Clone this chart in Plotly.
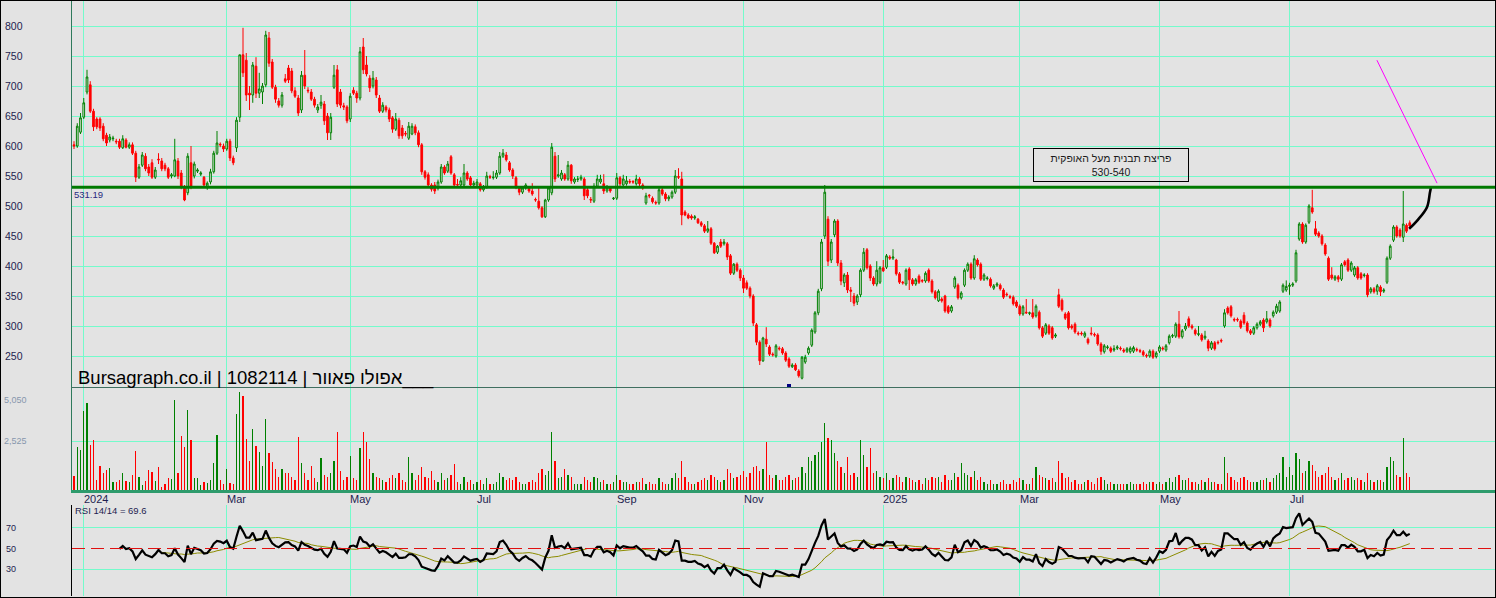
import numpy as np
import pandas as pd
import plotly.graph_objects as go

# ---------------- data ----------------
START_DATE = "2023-12-27"
HOLIDAYS = ["2024-03-24", "2024-04-22", "2024-04-23", "2024-04-28", "2024-04-29",
            "2024-05-13", "2024-05-14", "2024-06-11", "2024-06-12", "2024-08-13",
            "2024-10-02", "2024-10-03", "2024-10-16", "2024-10-17", "2024-10-23",
            "2024-10-24", "2025-04-13", "2025-05-01", "2025-06-01", "2025-06-02",
            "2025-08-03"]

opens = [602,600,623,648,690,702,658,645,645,633,618,610,612,608,608,597,610,598,602,588,
         548,568,583,565,572,548,578,575,568,562,550,550,575,555,532,522,572,550,558,553,
         548,533,540,557,588,603,600,595,608,580,597,648,752,743,688,685,733,688,690,702,
         780,740,698,675,668,712,730,725,692,680,660,718,693,690,678,660,668,670,650,622,
         698,727,690,667,665,645,693,688,680,765,735,713,700,710,680,658,665,660,647,628,
         643,630,621,613,620,632,622,602,557,552,535,535,530,540,565,558,582,552,536,535,
         535,555,547,535,535,537,527,532,549,547,548,555,583,585,572,560,547,530,523,530,
         530,525,511,508,497,482,510,522,583,550,545,552,545,568,540,544,545,545,527,511,
         508,533,540,537,525,530,512,513,547,535,537,541,541,537,545,535,505,518,513,506,
         505,527,520,512,515,523,549,545,490,485,483,480,478,472,467,458,462,438,423,440,
         437,437,417,388,403,393,380,372,363,350,302,273,242,278,265,253,250,263,262,255,
         245,232,235,225,213,240,255,268,290,322,362,450,478,410,452,475,405,372,385,360,
         350,340,352,393,427,400,380,370,373,397,398,415,413,410,387,373,370,395,377,370,
         383,376,375,393,375,357,342,345,350,332,325,365,368,347,368,393,403,380,410,403,
         378,379,378,363,368,368,360,353,349,348,340,333,320,323,321,322,317,323,297,288,
         300,297,283,352,343,320,322,300,303,288,288,283,278,288,286,285,270,257,264,263,
         260,263,263,260,258,257,258,261,259,257,251,250,258,249,258,263,260,272,283,283,
         303,282,295,312,300,293,286,285,280,275,263,272,273,276,300,330,332,311,311,308,
         318,305,292,288,297,303,310,307,310,317,323,325,358,360,366,368,375,445,470,440,
         473,497,462,455,450,435,413,385,378,382,378,407,410,393,385,397,387,384,385,357,
         362,358,365,358,373,413,443,465,460,448,468,472]
highs = [608,638,655,680,727,708,662,648,648,638,622,620,617,612,612,618,613,606,606,592,
         570,590,588,570,578,565,588,580,572,565,555,612,580,560,535,588,600,574,563,558,
         550,541,562,592,625,606,604,612,612,584,648,752,797,755,700,740,748,722,705,792,
         790,745,702,680,690,720,735,730,698,685,725,760,698,695,682,670,685,675,655,655,
         735,735,695,672,668,688,698,692,765,780,750,718,725,715,685,673,668,664,650,655,
         647,635,625,640,638,636,626,605,560,556,538,540,544,570,568,575,585,555,545,548,
         570,558,550,542,545,540,535,557,552,558,560,590,595,590,575,563,550,533,533,538,
         533,538,514,530,500,512,533,605,590,585,560,555,575,570,548,550,552,548,530,515,
         538,552,552,553,535,533,515,555,550,552,550,545,543,552,548,538,522,520,516,509,
         532,530,523,518,526,560,563,557,493,488,486,485,480,475,470,475,465,440,435,445,
         445,440,420,405,406,396,385,376,366,353,305,276,282,298,268,256,270,266,265,258,
         248,238,238,228,250,252,266,296,325,362,445,535,483,445,478,478,410,388,390,365,
         355,353,396,430,430,403,383,408,400,410,420,418,428,412,390,375,396,398,380,380,
         386,378,391,396,378,360,361,348,352,335,335,383,371,358,396,406,406,418,413,406,
         388,383,381,370,373,371,363,356,352,351,343,336,335,345,324,345,336,326,300,305,
         303,300,288,362,346,323,325,303,306,291,291,291,281,298,289,288,273,270,268,266,
         268,268,266,263,265,266,267,264,262,260,254,261,261,258,268,266,270,286,287,306,
         325,295,305,316,303,296,300,288,292,278,275,275,276,279,328,333,335,314,314,311,
         323,308,295,300,306,310,313,325,313,326,337,343,371,376,372,373,427,473,473,471,
         503,527,475,458,453,438,416,398,385,385,405,410,413,408,400,400,390,388,388,365,
         365,370,368,363,416,436,468,468,463,525,471,476]
lows = [595,597,620,645,686,655,625,628,625,608,600,606,608,603,595,595,596,595,585,540,
        545,565,558,550,545,545,570,558,558,545,546,548,545,528,508,518,528,546,555,550,
        530,527,536,554,585,598,590,592,575,568,590,640,715,675,660,672,680,680,670,698,
        732,695,672,664,664,705,705,688,680,650,655,695,688,675,664,655,662,635,610,610,
        695,665,663,660,638,640,685,672,676,720,716,690,696,680,655,655,656,640,622,625,
        612,612,616,610,618,618,598,552,544,530,524,520,526,537,552,555,552,530,530,532,
        532,542,532,532,532,524,524,529,545,544,545,552,580,574,557,545,528,518,520,527,
        522,517,507,494,480,480,507,518,540,547,542,542,542,537,537,540,542,510,513,505,
        505,530,537,520,522,522,510,510,533,532,534,537,537,534,533,527,502,513,504,502,
        502,517,508,508,512,520,545,468,483,478,477,477,470,465,455,455,435,420,420,430,
        434,410,385,385,390,375,355,360,346,300,268,235,240,265,250,249,247,259,252,240,
        230,230,225,214,211,237,252,265,287,318,358,445,400,405,448,400,368,365,355,340,
        333,335,348,390,394,375,367,366,370,390,395,410,410,384,370,369,367,360,367,367,
        370,372,372,372,354,344,340,339,322,320,322,362,344,344,365,390,377,377,399,375,
        375,376,364,360,365,359,345,349,345,334,330,317,317,320,318,312,314,294,280,285,
        285,277,280,330,324,310,294,294,287,284,284,280,269,284,282,267,252,254,261,255,
        257,260,259,255,255,254,255,257,255,249,247,247,245,246,255,259,257,269,280,280,
        279,279,292,297,294,284,283,274,277,258,260,259,269,272,297,319,314,307,307,295,
        302,289,285,285,294,300,290,304,297,314,320,322,355,357,352,365,372,442,437,437,
        470,487,450,447,434,417,375,377,375,373,375,399,390,390,382,377,377,381,348,354,
        354,352,350,355,370,410,440,447,447,440,455,464]
closes = [600,633,647,672,715,658,632,632,630,612,605,615,613,607,598,612,598,602,588,548,
          565,585,562,555,548,560,577,562,562,548,552,577,550,532,510,583,533,570,560,555,
          535,538,557,588,605,602,595,608,580,572,643,752,722,685,685,735,688,695,700,785,
          738,698,678,668,685,708,710,692,683,655,718,700,692,678,668,665,673,642,622,648,
          718,670,668,665,642,683,688,680,757,727,720,697,713,685,658,668,660,645,628,645,
          617,617,620,633,633,622,602,557,548,535,528,525,540,565,555,570,555,535,535,542,
          555,545,535,538,540,527,532,550,548,548,555,583,588,577,560,550,532,523,530,535,
          525,520,510,497,482,510,530,598,545,552,555,545,568,542,545,545,548,517,517,510,
          533,545,545,525,530,525,513,547,537,545,542,540,540,545,537,530,517,517,507,505,
          527,520,512,515,523,550,548,485,485,480,480,482,472,468,458,462,438,422,433,433,
          440,415,388,403,393,380,363,363,350,305,273,242,280,270,253,252,267,262,255,243,
          233,235,227,217,248,248,263,293,322,358,440,523,408,440,475,405,375,385,360,358,
          338,350,393,423,397,380,370,393,397,392,417,413,415,387,373,372,393,377,370,377,
          373,375,388,375,357,347,358,342,325,323,332,380,347,355,393,403,380,412,402,378,
          385,380,367,367,370,362,348,352,348,337,333,320,332,322,322,315,333,297,283,302,
          288,280,285,333,327,313,297,297,290,287,287,288,272,287,285,270,258,267,265,258,
          262,265,262,258,262,263,264,260,258,252,250,258,248,255,265,262,267,283,284,303,
          282,292,300,300,297,287,287,277,283,263,272,262,272,275,322,322,317,310,310,298,
          305,292,288,297,303,307,297,312,300,323,333,340,368,366,368,370,422,470,440,468,
          500,490,453,450,437,420,378,380,382,378,402,402,393,405,397,380,380,385,352,362,
          357,367,357,360,413,433,465,450,450,470,458,467]
volumes = [740,2215,2095,4124,4505,2356,2600,536,1264,866,1040,1144,432,432,520,900,484,396,780,2044,
           656,276,484,1040,950,484,1212,172,312,624,570,4680,866,2824,2215,4160,2600,624,624,260,
           432,344,520,1420,2876,520,312,1092,344,312,3950,5110,4870,2650,1524,3170,2300,1955,1264,3690,
           1903,1435,1092,690,1092,866,866,690,520,2750,1400,900,500,1250,600,400,1650,800,700,
           900,1500,3000,1000,500,700,1750,600,500,2200,3000,2500,1600,900,700,600,500,400,600,800,
           600,900,500,400,1700,900,500,800,1200,700,600,1000,500,400,900,500,600,800,1350,400,
           300,700,400,500,300,400,500,300,600,300,300,400,900,700,500,600,500,700,400,300,
           300,400,500,400,900,1100,800,1000,3000,1500,600,700,1100,800,700,300,300,300,700,500,
           400,700,600,400,500,300,300,400,800,500,400,400,300,300,400,400,600,300,400,300,
           300,600,400,300,300,600,900,600,1500,700,400,300,300,400,500,600,500,800,700,500,
           400,500,1100,900,600,700,800,1000,700,900,1200,1250,1000,1100,2500,800,600,800,500,500,
           700,800,500,600,700,1200,900,1700,1500,1800,2000,2500,3500,2700,2600,1900,1500,1200,900,1700,
           800,900,700,2600,1800,1200,2200,900,1000,700,600,900,500,600,800,700,400,700,600,500,
           400,500,300,600,500,700,600,700,400,800,500,500,900,700,1400,900,800,700,1000,500,
           700,400,300,500,300,300,400,500,300,300,500,400,600,500,300,300,600,1200,800,700,
           600,500,600,400,1500,900,600,700,400,500,300,300,400,500,400,300,600,700,500,300,
           400,300,300,300,300,300,400,300,300,300,400,300,400,400,300,400,300,400,600,400,
           700,800,500,500,600,400,400,300,500,400,600,400,400,300,300,1700,900,700,500,400,
           600,700,500,400,400,400,500,500,600,400,600,800,900,1700,700,1200,800,1900,1600,900,
           1000,1500,1300,1000,700,800,900,1200,700,500,600,900,500,600,700,500,600,500,400,900,
           500,400,500,500,400,1200,1700,1500,800,700,2700,900,700]

MONTH_STARTS = ["2024-01-01", "2024-03-01", "2024-05-01", "2024-07-01", "2024-09-01",
                "2024-11-01", "2025-01-01", "2025-03-01", "2025-05-01", "2025-07-01"]
MONTH_LABELS = ["2024", "Mar", "May", "Jul", "Sep", "Nov", "2025", "Mar", "May", "Jul"]
PRICE_TICKS = [250, 300, 350, 400, 450, 500, 550, 600, 650, 700, 750, 800]
VOLUME_TICKS = [2525, 5050]
VOLUME_TICK_TEXT = ["2,525", "5,050"]
RSI_TICKS = [30, 50, 70]
SUPPORT_LEVEL = 531.19
NOTE_TEXT = ["פריצת תבנית מעל האופקית", "530-540"]
NOTE_POS = (319, 568)
TITLE_TEXT = "Bursagraph.co.il | 1082114 | אפולו פאוור___"
RSI_TEXT = "RSI 14/14 = 69.6"
TREND_X = [400.9, 419.4]
TREND_Y = [743, 538]
PATH_X = [410.8, 413.5, 416.3, 417.2, 417.6]
PATH_Y = [462, 477, 498, 522, 533]
MARKER_IDX = 220
MARKER_PRICE = 200

# ---------------- derived ----------------
n = min(len(opens), len(highs), len(lows), len(closes), len(volumes))
opens, highs, lows, closes, volumes = (a[:n] for a in (opens, highs, lows, closes, volumes))
dates = pd.bdate_range(start=START_DATE, periods=n, freq="C",
                       weekmask="Sun Mon Tue Wed Thu", holidays=HOLIDAYS)
xi = np.arange(n)
month_pos = [int(np.searchsorted(dates.values, np.datetime64(m))) for m in MONTH_STARTS]

c = pd.Series(closes, dtype=float)
d = c.diff().fillna(0.0).values
gain = np.clip(d, 0, None)
loss = np.clip(-d, 0, None)
P = 14
ag = np.full(n, np.nan)
al = np.full(n, np.nan)
ag[P] = gain[1:P + 1].mean()
al[P] = loss[1:P + 1].mean()
for i in range(P + 1, n):
    ag[i] = (ag[i - 1] * (P - 1) + gain[i]) / P
    al[i] = (al[i - 1] * (P - 1) + loss[i]) / P
rsi = 100 - 100 / (1 + ag / np.where(al == 0, 1e-9, al))
rsi_ma = pd.Series(rsi).rolling(P).mean().values

up = [cl >= op for op, cl in zip(opens, closes)]
vol_colors = ["#008000" if u else "#ff0000" for u in up]

# ---------------- style ----------------
BG = "#e3e3e3"
GRID = "#74fbcb"
FONT = "Liberation Sans, Arial, DejaVu Sans, sans-serif"
W, H = 1496, 598
X0 = 72 / W
PX = 3.25
XR = [-(74 - 72) / PX, (W - 74) / PX]

def py(pix):
    return 1 - pix / H

fig = go.Figure()
fig.add_trace(go.Candlestick(
    x=xi, open=opens, high=highs, low=lows, close=closes,
    xaxis="x", yaxis="y", whiskerwidth=0,
    increasing=dict(line=dict(color="#008000", width=1), fillcolor=BG),
    decreasing=dict(line=dict(color="#ff0000", width=1), fillcolor="#ff0000"),
    hoverinfo="skip"))
fig.add_trace(go.Scatter(x=TREND_X, y=TREND_Y, mode="lines", xaxis="x", yaxis="y",
                         line=dict(color="#ff00ff", width=1), hoverinfo="skip"))
fig.add_trace(go.Scatter(x=PATH_X, y=PATH_Y, mode="lines", xaxis="x", yaxis="y",
                         line=dict(color="#000000", width=2.6, shape="spline"), hoverinfo="skip"))
fig.add_trace(go.Scatter(x=[MARKER_IDX], y=[MARKER_PRICE], mode="markers", xaxis="x", yaxis="y",
                         marker=dict(symbol="square", size=4, color="#000080"), hoverinfo="skip"))
fig.add_trace(go.Bar(x=xi, y=volumes, xaxis="x2", yaxis="y2", width=0.45,
                     marker=dict(color=vol_colors, line=dict(width=0)), hoverinfo="skip"))
fig.add_trace(go.Scatter(x=xi, y=rsi_ma, mode="lines", xaxis="x3", yaxis="y3",
                         line=dict(color="#8c8c00", width=1), hoverinfo="skip"))
fig.add_trace(go.Scatter(x=xi, y=rsi, mode="lines", xaxis="x3", yaxis="y3",
                         line=dict(color="#000000", width=2.2), hoverinfo="skip"))

xcommon = dict(range=XR, tickvals=month_pos, showticklabels=False, showgrid=True,
               gridcolor=GRID, gridwidth=1, zeroline=False, ticks="", fixedrange=True)
fig.update_layout(
    width=W, height=H, margin=dict(l=0, r=0, t=0, b=0),
    paper_bgcolor=BG, plot_bgcolor=BG, showlegend=False,
    font=dict(family=FONT, color="#1e1e50"),
    bargap=0, boxgap=0.25,
    xaxis=dict(domain=[X0, 1], anchor="y", rangeslider=dict(visible=False),
               showline=True, linecolor="#3f6f60", linewidth=1, **xcommon),
    xaxis2=dict(domain=[X0, 1], anchor="y2", matches="x",
                showline=True, linecolor="#2e9b6c", linewidth=3, **xcommon),
    xaxis3=dict(domain=[X0, 1], anchor="y3", matches="x", showline=False, **xcommon),
    yaxis=dict(domain=[py(387), 1], range=[250 - (387 - 356) / 0.6, 250 + 356 / 0.6],
               tickvals=PRICE_TICKS, showticklabels=False, showgrid=True, gridcolor=GRID,
               zeroline=False, showline=True, linecolor="#2f7a5c", linewidth=1, ticks="",
               fixedrange=True),
    yaxis2=dict(domain=[py(490), py(388)], range=[0, 5300], tickvals=[VOLUME_TICKS[0]],
                showticklabels=False, showgrid=True, gridcolor=GRID, zeroline=False,
                showline=True, linecolor="#2f7a5c", linewidth=1, ticks="", fixedrange=True),
    yaxis3=dict(domain=[py(596), py(505)], range=[3.7, 92.4], tickvals=[30, 70],
                showticklabels=False, showgrid=True, gridcolor=GRID, zeroline=False,
                showline=True, linecolor="#000000", linewidth=1, ticks="", fixedrange=True),
)

shapes = [
    dict(type="line", xref="paper", yref="y", x0=X0, x1=1, y0=SUPPORT_LEVEL, y1=SUPPORT_LEVEL,
         line=dict(color="#007a00", width=3)),
    dict(type="line", xref="paper", yref="y3", x0=X0, x1=1, y0=50, y1=50,
         line=dict(color="#e01010", width=1, dash="13px,6px")),
    dict(type="rect", xref="paper", yref="paper", x0=0, x1=1, y0=0, y1=1,
         line=dict(color="#000000", width=2)),
]
fig.update_layout(shapes=shapes)

ann = []
for v in PRICE_TICKS:
    ann.append(dict(x=3 / W, xref="paper", y=v, yref="y", text=str(v), showarrow=False,
                    xanchor="left", yanchor="middle", font=dict(size=10.5, color="#1e1e50")))
ann.append(dict(x=2 / W, xref="paper", y=VOLUME_TICKS[0], yref="y2", text=VOLUME_TICK_TEXT[0],
                showarrow=False, xanchor="left", yanchor="middle",
                font=dict(size=9, color="#8797ad")))
ann.append(dict(x=2 / W, xref="paper", y=VOLUME_TICKS[1], yref="y2", text=VOLUME_TICK_TEXT[1],
                showarrow=False, xanchor="left", yanchor="top",
                font=dict(size=9, color="#8797ad")))
for v in RSI_TICKS:
    ann.append(dict(x=4 / W, xref="paper", y=v, yref="y3", text=str(v), showarrow=False,
                    xanchor="left", yanchor="middle", font=dict(size=9, color="#1e1e50")))
for p, lab in zip(month_pos, MONTH_LABELS):
    ann.append(dict(x=p, xref="x", y=py(499), yref="paper", text=lab, showarrow=False,
                    xanchor="left", yanchor="middle", xshift=-2,
                    font=dict(size=11, color="#1e1e50")))
ann.append(dict(x=X0, xref="paper", y=SUPPORT_LEVEL, yref="y", text=f"{SUPPORT_LEVEL:.2f}",
                showarrow=False, xanchor="left", yanchor="top", yshift=0,
                font=dict(size=9.5, color="#2a2a80")))
ann.append(dict(x=X0 + 1 / W, xref="paper", y=py(510), yref="paper", text=RSI_TEXT,
                showarrow=False, xanchor="left", yanchor="middle",
                font=dict(size=9.5, color="#1e1e50")))
ann.append(dict(x=76 / W, xref="paper", y=py(391), yref="paper", text=TITLE_TEXT,
                showarrow=False, xanchor="left", yanchor="bottom",
                font=dict(size=18.5, color="#000000")))
ann.append(dict(x=NOTE_POS[0], xref="x", y=NOTE_POS[1], yref="y",
                text="<br>".join(NOTE_TEXT), showarrow=False, xanchor="center", yanchor="middle",
                width=152, height=30, bordercolor="#000000", borderwidth=1, borderpad=1,
                font=dict(size=10.5, color="#1a1a1a")))
fig.update_layout(annotations=ann)

fig.write_html("out.html", config={"displayModeBar": False, "staticPlot": True},
               post_script="document.body.style.margin='0';document.body.style.overflow='hidden';")
